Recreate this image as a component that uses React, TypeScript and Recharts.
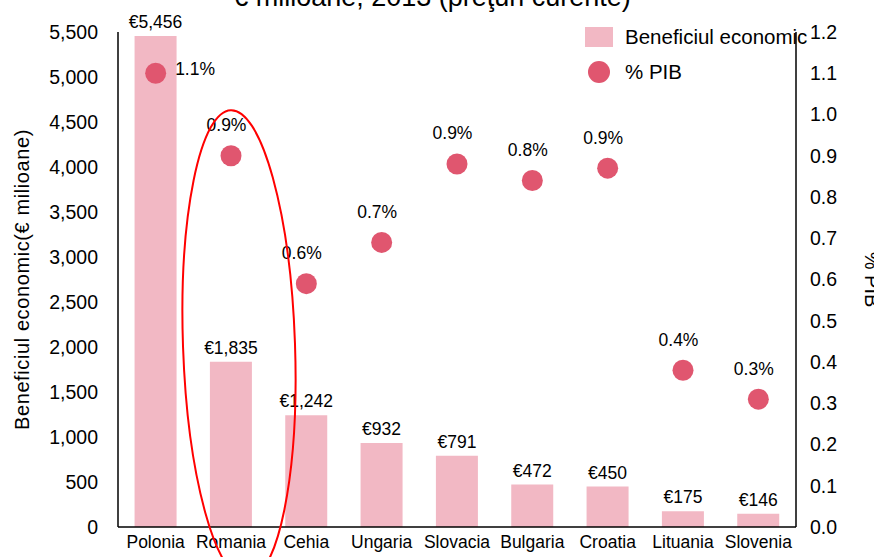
import {
  ComposedChart,
  Bar,
  Scatter,
  XAxis,
  YAxis,
  LabelList,
} from 'recharts'

const countries = ['Polonia', 'Romania', 'Cehia', 'Ungaria', 'Slovacia', 'Bulgaria', 'Croatia', 'Lituania', 'Slovenia']
const benefit = [5456, 1835, 1242, 932, 791, 472, 450, 175, 146]
const pctGdp = [1.1, 0.9, 0.59, 0.69, 0.88, 0.84, 0.87, 0.38, 0.31]
const pctLabels = ['1.1%', '0.9%', '0.6%', '0.7%', '0.9%', '0.8%', '0.9%', '0.4%', '0.3%']
const leftTicks = [0, 500, 1000, 1500, 2000, 2500, 3000, 3500, 4000, 4500, 5000, 5500]
const rightTicks = [0, 0.1, 0.2, 0.3, 0.4, 0.5, 0.6, 0.7, 0.8, 0.9, 1.0, 1.1, 1.2]

const BAR = '#F2B8C4'
const DOT = '#E0566F'
const FONT = '"Liberation Sans", Arial, sans-serif'

const rows = countries.map((c, i) => ({
  name: c,
  benefit: benefit[i],
  pct: pctGdp[i],
  pctLabel: pctLabels[i],
}))

const PctLabel = (props: any) => {
  const { x, y, index } = props
  const text = pctLabels[index]
  if (index === 0) {
    return (
      <text x={x + 24} y={y + 6} fontSize={17.5} fill="#000" textAnchor="start">
        {text}
      </text>
    )
  }
  return (
    <text x={x} y={y - 20} fontSize={17.5} fill="#000" textAnchor="middle">
      {text}
    </text>
  )
}

export default function App() {
  return (
    <div style={{ position: 'fixed', left: 0, top: 0, width: 874, height: 557, overflow: 'hidden', background: '#fff', fontFamily: FONT }}>
      <ComposedChart
        width={874}
        height={557}
        data={rows}
        margin={{ top: 32, right: 0, bottom: 0, left: 0 }}
        barCategoryGap="22%"
      >
        <XAxis
          dataKey="name"
          height={30}
          tick={{ fontSize: 17.5, fill: '#000' }}
          tickLine={false}
          tickMargin={3}
          axisLine={{ stroke: '#000', strokeWidth: 1.5 }}
          interval={0}
        />
        <YAxis
          yAxisId="left"
          width={118}
          domain={[0, 5500]}
          ticks={leftTicks}
          tickFormatter={(v: number) => v.toLocaleString('en-US')}
          tick={{ fontSize: 19.5, fill: '#000' }}
          tickLine={false}
          tickMargin={14}
          axisLine={{ stroke: '#000', strokeWidth: 1.5 }}
          label={{
            value: 'Beneficiul economic(€ milioane)',
            angle: -90,
            position: 'insideLeft',
            offset: 22,
            style: { textAnchor: 'middle', fontSize: 20, letterSpacing: 0.6, fill: '#000' },
          }}
        />
        <YAxis
          yAxisId="right"
          orientation="right"
          width={78}
          domain={[0, 1.2]}
          ticks={rightTicks}
          tickFormatter={(v: number) => v.toFixed(1)}
          tick={{ fontSize: 19.5, fill: '#000' }}
          tickLine={false}
          tickMargin={8}
          axisLine={{ stroke: '#000', strokeWidth: 1.5 }}
          label={{
            value: '% PIB',
            angle: 90,
            position: 'insideRight',
            offset: 2,
            style: { textAnchor: 'middle', fontSize: 20, fill: '#000' },
          }}
        />
        <Bar yAxisId="left" dataKey="benefit" fill={BAR} isAnimationActive={false}>
          <LabelList
            dataKey="benefit"
            position="top"
            offset={8}
            formatter={(v: any) => `€${Number(v).toLocaleString('en-US')}`}
            style={{ fontSize: 17.5, fill: '#000' }}
          />
        </Bar>
        <Scatter
          yAxisId="right"
          dataKey="pct"
          fill={DOT}
          isAnimationActive={false}
          shape={(p: any) => <circle cx={p.cx} cy={p.cy} r={10.5} fill={DOT} />}
        >
          <LabelList dataKey="pctLabel" content={<PctLabel />} />
        </Scatter>
      </ComposedChart>
      <div style={{ position: 'absolute', left: 585, top: 24, fontSize: 20.5, color: '#000', lineHeight: '26px' }}>
        <div style={{ display: 'flex', alignItems: 'center', height: 26 }}>
          <span style={{ width: 28, height: 20, background: BAR, marginRight: 12 }} />
          Beneficiul economic
        </div>
        <div style={{ display: 'flex', alignItems: 'center', height: 26, marginTop: 9 }}>
          <span style={{ width: 22, height: 22, borderRadius: 11, background: DOT, marginLeft: 3, marginRight: 15 }} />
          % PIB
        </div>
      </div>
      <svg width={874} height={557} style={{ position: 'absolute', left: 0, top: 0, pointerEvents: 'none' }}>
        <text x={432} y={6} textAnchor="middle" fontSize={27} fill="#000" fontFamily={FONT}>
          € milioane, 2013 (preţuri curente)
        </text>
        <ellipse cx={239} cy={345} rx={56} ry={235} fill="none" stroke="#FF0000" strokeWidth={2} transform="rotate(-2 239 345)" />
      </svg>
    </div>
  )
}
